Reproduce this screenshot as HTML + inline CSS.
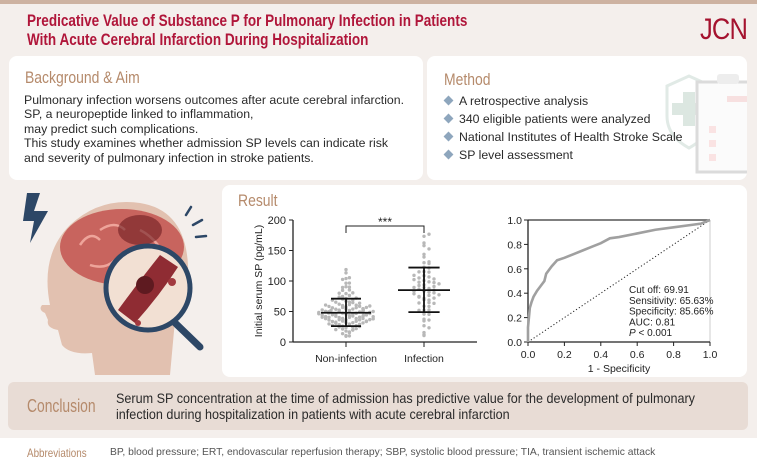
<!DOCTYPE html>
<html><head><meta charset="utf-8"><style>
*{margin:0;padding:0;box-sizing:border-box}
body{width:757px;height:469px;overflow:hidden;background:#fff;font-family:"Liberation Sans",sans-serif;position:relative}
.abs{position:absolute}
.bg{left:0;top:0;width:757px;height:438px;background:#f4efec}
.topbar{left:0;top:0;width:757px;height:4px;background:#cdb2a1}
.sq{transform-origin:0 0;white-space:nowrap}
.title{left:27px;top:12px;color:#b0163a;font-weight:bold;font-size:16.5px;line-height:19px;transform:scaleX(0.82)}
.jcn{left:700px;top:13px;color:#a5132f;font-size:30px;letter-spacing:-1px;transform:scaleX(0.85)}
.card{background:#fff;border-radius:8px}
.h{color:#b58a6b;font-size:17px;transform:scaleX(0.82)}
.body{color:#2a2a2a;font-size:12.3px;line-height:14.4px}
.li{font-size:12.3px;color:#2a2a2a;height:18px}
.dia{display:inline-block;width:7px;height:7px;background:#8ea6bd;transform:rotate(45deg);margin-right:7px;vertical-align:1px}
.concl{left:8px;top:382px;width:740px;height:48px;background:#e8dcd5;border-radius:6px}
</style></head><body>
<div class="abs bg"></div>
<div class="abs topbar"></div>
<div class="abs title sq">Predicative Value of Substance P for Pulmonary Infection in Patients<br>With Acute Cerebral Infarction During Hospitalization</div>
<div class="abs jcn sq">JCN</div>

<div class="abs card" style="left:9px;top:56px;width:414px;height:124px">
 <div class="abs h sq" style="left:16px;top:12px">Background &amp; Aim</div>
 <div class="abs body" style="left:15px;top:37px">Pulmonary infection worsens outcomes after acute cerebral infarction.<br>SP, a neuropeptide linked to inflammation,<br>may predict such complications.<br>This study examines whether admission SP levels can indicate risk<br>and severity of pulmonary infection in stroke patients.</div>
</div>

<div class="abs card" style="left:427px;top:56px;width:320px;height:124px;overflow:hidden">
 <svg class="abs" style="left:0;top:0" width="320" height="124">
  <g opacity="0.35">
   <path d="M240 30 L262 20 L284 30 L284 60 Q284 80 262 92 Q240 80 240 60Z" fill="#fff" stroke="#a9c4b8" stroke-width="3"/>
   <rect x="256" y="36" width="12" height="34" fill="#9ab9a8"/><rect x="245" y="47" width="34" height="12" fill="#9ab9a8"/>
   <rect x="270" y="26" width="62" height="90" fill="#f2f2f2" stroke="#999" stroke-width="3"/>
   <rect x="290" y="18" width="22" height="10" rx="3" fill="#ccc"/>
   <rect x="300" y="40" width="26" height="6" fill="#e8a5a5"/>
   <rect x="282" y="70" width="7" height="7" fill="#f0b0b0"/><rect x="282" y="84" width="7" height="7" fill="#f0b0b0"/><rect x="282" y="98" width="7" height="7" fill="#f0b0b0"/>
  </g>
 </svg>
 <div class="abs h sq" style="left:17px;top:14px">Method</div>
 <div class="abs" style="left:18px;top:38px">
  <div class="li"><span class="dia"></span>A retrospective analysis</div>
  <div class="li"><span class="dia"></span>340 eligible patients were analyzed</div>
  <div class="li"><span class="dia"></span>National Institutes of Health Stroke Scale</div>
  <div class="li"><span class="dia"></span>SP level assessment</div>
 </div>
</div>

<svg class="abs" style="left:0;top:185px" width="222" height="192">
 <path d="M27 8 L40 8 L34 26 L48 26 L30 58 L34 36 L23 36Z" fill="#2d4766"/>
 <path d="M50 120 Q40 70 70 40 Q100 12 140 18 Q185 25 188 80 Q190 110 175 135 L170 190 L95 190 L92 168 Q70 170 62 160 L58 145 Q46 143 48 135 L45 128 Q38 125 42 120 Z" fill="#e2c1b0"/>
 <ellipse cx="122" cy="62" rx="62" ry="38" fill="#c8645e"/>
 <path d="M80 60 q10-15 20-5 M100 45 q15-10 25 0 M90 80 q15 5 25-5 M130 75 q10-10 22 0 M140 45 q10 5 18 15" stroke="#eea49a" stroke-width="2.5" fill="none"/>
 <ellipse cx="140" cy="45" rx="22" ry="15" fill="#6e1d22" opacity="0.6"/>
 <line x1="170" y1="133" x2="200" y2="162" stroke="#2d4766" stroke-width="7" stroke-linecap="round"/>
 <circle cx="148" cy="103" r="42" fill="#f2e0d3" stroke="#2d4766" stroke-width="5"/>
 <path d="M118 125 Q140 95 160 70 L178 82 Q160 110 135 138Z" fill="#8f2c33"/>
 <circle cx="145" cy="100" r="9" fill="#5e1a20"/>
 <circle cx="172" cy="97" r="4" fill="#a23a3f"/><circle cx="138" cy="138" r="3" fill="#a23a3f"/>
 <path d="M186 30 l5 -8 M193 40 l9 -5 M196 52 l10 -1" stroke="#2d4766" stroke-width="2.5" stroke-linecap="round"/>
</svg>

<div class="abs card" style="left:222px;top:185px;width:525px;height:192px"></div>
<div class="abs h sq" style="left:238px;top:191px">Result</div>

<svg class="abs" style="left:222px;top:185px" width="525" height="192" id="charts"></svg>

<div class="abs concl">
 <div class="abs h sq" style="left:19px;top:14px;font-size:18px;transform:scaleX(0.77)">Conclusion</div>
 <div class="abs sq" style="left:108px;top:8px;color:#2a2a2a;font-size:14px;line-height:16px;transform:scaleX(0.9)">Serum SP concentration at the time of admission has predictive value for the development of pulmonary<br>infection during hospitalization in patients with acute cerebral infarction</div>
</div>
<div class="abs sq" style="left:27px;top:446px;font-size:12px;color:#b58a6b;transform:scaleX(0.82)">Abbreviations</div>
<div class="abs sq" style="left:110px;top:447px;font-size:10.3px;color:#555">BP, blood pressure; ERT, endovascular reperfusion therapy; SBP, systolic blood pressure; TIA, transient ischemic attack</div>

<script>
const groupLabels=["Non-infection","Infection"];
const nonInfection=[8,10,12,14,15,17,18,19,20,21,22,22,23,24,25,25,26,27,27,28,28,29,30,30,31,31,32,32,33,33,34,34,35,35,35,36,36,37,37,38,38,38,39,39,40,40,40,41,41,42,42,42,43,43,43,44,44,44,45,45,45,46,46,46,47,47,47,48,48,48,48,49,49,49,50,50,50,51,51,51,52,52,52,53,53,54,54,55,55,55,56,56,57,57,58,58,59,60,60,61,62,62,63,64,65,66,67,68,69,70,71,72,74,75,76,78,80,82,84,86,88,90,92,95,98,100,104,108,112,120];
const infection=[8,12,18,22,28,32,36,40,44,47,50,52,55,57,60,62,64,66,68,70,71,72,74,75,76,78,79,80,82,83,84,85,86,88,89,90,91,92,94,95,96,98,100,101,102,104,105,106,108,110,112,115,118,120,124,126,130,134,138,145,150,158,165,172,178];
const groupMean=[48,85];
const groupSdLow=[26,49];
const groupSdHigh=[71,122];
const yTicks=[0,50,100,150,200];
const rocFpr=[0,0,0.005,0.01,0.02,0.03,0.05,0.07,0.09,0.1,0.13,0.16,0.2,0.25,0.3,0.35,0.4,0.45,0.5,0.6,0.7,0.8,0.9,0.95,1];
const rocTpr=[0,0.12,0.2,0.28,0.33,0.37,0.42,0.46,0.5,0.56,0.62,0.67,0.69,0.72,0.75,0.78,0.81,0.85,0.86,0.89,0.92,0.94,0.96,0.97,1];
const rocTicks=[0,0.2,0.4,0.6,0.8,1.0];
const rocNotes=["Cut off: 69.91","Sensitivity: 65.63%","Specificity: 85.66%","AUC: 0.81","P < 0.001"];

const svg=document.getElementById('charts');
const NS='http://www.w3.org/2000/svg';
function mk(t,a,p){const e=document.createElementNS(NS,t);for(const k in a)e.setAttribute(k,a[k]);(p||svg).appendChild(e);return e;}
const sx0=71,sx1=255,sy0=157,sy1=35;
const sy=v=>sy0-(v/200)*(sy0-sy1);
const gx=[124,202];
let e;
e=mk('line',{x1:sx0,y1:sy0,x2:sx1,y2:sy0,stroke:'#222','stroke-width':1.3});


e=mk('line',{x1:sx0,y1:sy0,x2:sx0,y2:sy1,stroke:'#222','stroke-width':1.3});


yTicks.forEach(t=>{
 mk('line',{x1:sx0-4,y1:sy(t),x2:sx0,y2:sy(t),stroke:'#222'});
 const tx=mk('text',{x:sx0-7,y:sy(t)+4,'text-anchor':'end','font-size':11,fill:'#222'});tx.textContent=t;
 
 
});
e=mk('text',{x:0,y:0,transform:`translate(40,${(sy0+sy1)/2}) rotate(-90)`,'text-anchor':'middle','font-size':10.5,fill:'#222'});
e.textContent='Initial serum SP (pg/mL)';


groupLabels.forEach((g,i)=>{
 mk('line',{x1:gx[i],y1:sy0,x2:gx[i],y2:sy0+5,stroke:'#222'});
 const tx=mk('text',{x:gx[i],y:sy0+20,'text-anchor':'middle','font-size':10.5,fill:'#222'});tx.textContent=g;
 
 
});
function swarm(vals,cx,name,spread,maxw){
 const bins={};
 vals.forEach((v,j)=>{const b=Math.round(v/7);bins[b]=(bins[b]||0)+1;const k=bins[b]-1;
  let off=(k%2?1:-1)*Math.ceil(k/2)*spread;
  while(Math.abs(off)>maxw)off=off*0.5+ (k%3-1)*2;
  const c=mk('circle',{cx:cx+off,cy:sy(v)+((j*7)%5-2)*0.8,r:1.7,fill:'#b8b8b8'});
  
  
 });
}
swarm(nonInfection,gx[0],'non-infection-point',3.4,28);
swarm(infection,gx[1],'infection-point',5,30);
[0,1].forEach(i=>{
 const w=[25,26][i];
 const m=mk('line',{x1:gx[i]-w,y1:sy(groupMean[i]),x2:gx[i]+w,y2:sy(groupMean[i]),stroke:'#111','stroke-width':1.8});
 
 
 mk('line',{x1:gx[i],y1:sy(groupSdLow[i]),x2:gx[i],y2:sy(groupSdHigh[i]),stroke:'#111','stroke-width':1.8});
 mk('line',{x1:gx[i]-w*0.6,y1:sy(groupSdLow[i]),x2:gx[i]+w*0.6,y2:sy(groupSdLow[i]),stroke:'#111','stroke-width':1.8});
 mk('line',{x1:gx[i]-w*0.6,y1:sy(groupSdHigh[i]),x2:gx[i]+w*0.6,y2:sy(groupSdHigh[i]),stroke:'#111','stroke-width':1.8});
});
e=mk('path',{d:`M${gx[0]} ${sy1+13} V${sy1+6} H${gx[1]} V${sy1+13}`,fill:'none',stroke:'#222'});


e=mk('text',{x:(gx[0]+gx[1])/2,y:sy1+6,'text-anchor':'middle','font-size':12,fill:'#222'});e.textContent='***';



const rx0=306,rx1=488,ry0=157,ry1=35;
const rx=v=>rx0+v*(rx1-rx0), ry=v=>ry0-v*(ry0-ry1);
mk('line',{x1:rx0,y1:ry1,x2:rx1,y2:ry1,stroke:'#555','stroke-width':1.5});
mk('line',{x1:rx1,y1:ry1,x2:rx1,y2:ry0,stroke:'#ccc','stroke-width':1});
e=mk('line',{x1:rx0,y1:ry0,x2:rx1,y2:ry0,stroke:'#222','stroke-width':1.3});


e=mk('line',{x1:rx0,y1:ry0,x2:rx0,y2:ry1,stroke:'#222','stroke-width':1.3});


rocTicks.forEach(t=>{
 mk('line',{x1:rx(t),y1:ry0,x2:rx(t),y2:ry0+4,stroke:'#222'});
 mk('line',{x1:rx0-4,y1:ry(t),x2:rx0,y2:ry(t),stroke:'#222'});
 let a=mk('text',{x:rx(t),y:ry0+16,'text-anchor':'middle','font-size':10.5,fill:'#222'});a.textContent=t.toFixed(1);
 
 
 let b=mk('text',{x:rx0-6,y:ry(t)+4,'text-anchor':'end','font-size':10.5,fill:'#222'});b.textContent=t.toFixed(1);
 
 
});
e=mk('text',{x:(rx0+rx1)/2,y:ry0+30,'text-anchor':'middle','font-size':10.5,fill:'#222'});e.textContent='1 - Specificity';


e=mk('line',{x1:rx(0),y1:ry(0),x2:rx(1),y2:ry(1),stroke:'#222','stroke-dasharray':'1.2 2.2','stroke-width':1});


e=mk('polyline',{points:rocFpr.map((f,i)=>rx(f)+','+ry(rocTpr[i])).join(' '),fill:'none',stroke:'#a0a0a0','stroke-width':2.6});


rocNotes.forEach((n,i)=>{
 const t=mk('text',{x:407,y:108+i*10.8,'font-size':10,fill:'#222'});
 if(i===4){const s=mk('tspan',{'font-style':'italic'},t);s.textContent='P';const r=mk('tspan',{},t);r.textContent=' < 0.001';}
 else t.textContent=n;
 
 
});
</script>
</body></html>
